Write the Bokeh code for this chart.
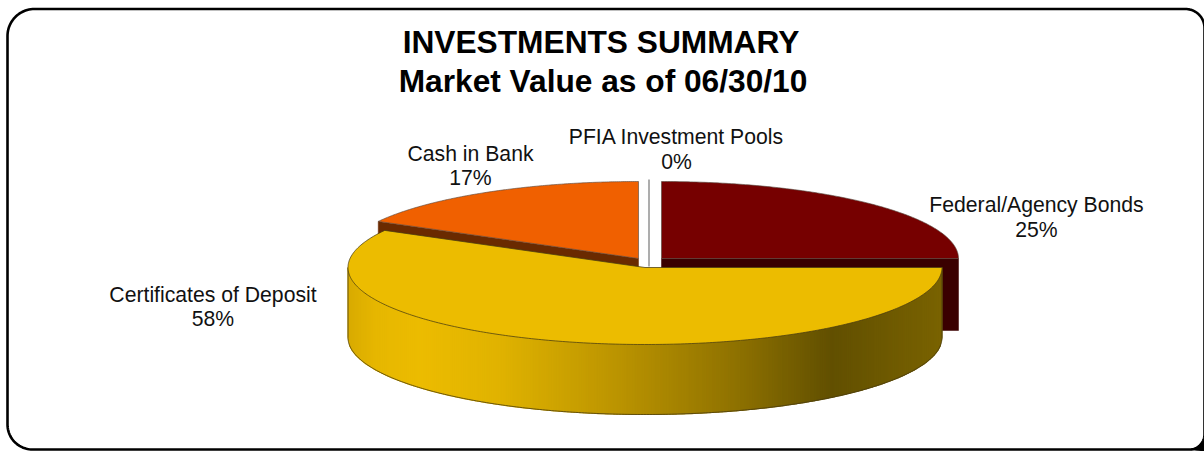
import numpy as np
from bokeh.plotting import figure
from bokeh.models import Range1d
from bokeh.core.properties import value
from bokeh.embed import file_html
from bokeh.resources import INLINE

# ---- data ----
categories = ["Federal/Agency Bonds", "Certificates of Deposit", "Cash in Bank", "PFIA Investment Pools"]
shares = [25, 58, 17, 0]
title_lines = ["INVESTMENTS SUMMARY", "Market Value as of 06/30/10"]

# ---- layout / style ----
W, H = 1204, 451
A, B, DEPTH = 297.0, 77.0, 70.0
centers = [(661.0, 258.0), (644.5, 267.0), (638.0, 258.0), (648.5, 258.0)]
top_colors = ["#760000", "#ECBC00", "#F06000", "#999999"]
side_colors = ["#3A0000", None, "#6A2A00", None]
label_pos = [(1036, 204, 229), (212.5, 293.5, 318), (470, 153, 177), (676, 136, 161)]
title_pos = [(600.5, 41.5), (602.5, 80)]
grad_x = [347, 375, 419, 498, 617, 735, 830, 942]
grad_rgb = [(216, 171, 0), (230, 183, 0), (236, 188, 0), (224, 179, 0), (187, 148, 0),
            (143, 114, 0), (98, 80, 0), (122, 99, 0)]

p = figure(width=W, height=H, output_backend="svg", toolbar_location=None,
           x_range=Range1d(0, W), y_range=Range1d(H, 0), min_border=0,
           outline_line_color=None, background_fill_color="white",
           border_fill_color="white")
p.axis.visible = False
p.grid.visible = False

def rim(cx, cy, a0, a1, n=160, dy=0.0):
    """Points on the ellipse; angle is clockwise from 12 o'clock, in degrees."""
    t = np.radians(np.linspace(a0, a1, n))
    return cx + A * np.sin(t), cy - B * np.cos(t) + dy

# slice angles out of the shares
total = float(sum(shares))
angles = []
start = 0.0
for s in shares:
    end = start + 360.0 * s / total
    angles.append((start, end))
    start = end

# walls of the radial edges that stay visible
(a0, a1), (cx, cy) = angles[0], centers[0]
ex, ey = rim(cx, cy, a1, a1, 1)
p.patch([cx, ex[0], ex[0], cx], [cy, ey[0], ey[0] + DEPTH + 2, cy + DEPTH + 2],
        fill_color=side_colors[0], line_color=side_colors[0], line_width=0.5)
(a0, a1), (cx, cy) = angles[2], centers[2]
ex, ey = rim(cx, cy, a0, a0, 1)
p.patch([cx, ex[0], ex[0], cx], [cy, ey[0], ey[0] + DEPTH, cy + DEPTH],
        fill_color=side_colors[2], line_color=side_colors[2], line_width=0.5)

# top faces of the two rear slices
for i in (0, 2):
    a0, a1 = angles[i]
    cx, cy = centers[i]
    x, y = rim(cx, cy, a0, a1)
    p.patch(np.r_[cx, x], np.r_[cy, y], fill_color=top_colors[i],
            line_color="#5a4a40", line_width=0.8, line_alpha=0.8)

# the empty slice is only a line
cx, cy = centers[3]
x, y = rim(cx, cy, angles[3][0], angles[3][1], 2)
p.line([cx, x[0]], [cy + 8, y[0] - 2], line_color=top_colors[3], line_width=1.6)

# wall of the big slice: shaded strip by strip, evenly spaced across the width
cx, cy = centers[1]
sx = np.linspace(cx + A, cx - A, 298)
xs, ys, cols = [], [], []
for x0, x1 in zip(sx[:-1], sx[1:]):
    y0 = cy + B * np.sqrt(max(0.0, 1 - ((x0 - cx) / A) ** 2))
    y1 = cy + B * np.sqrt(max(0.0, 1 - ((x1 - cx) / A) ** 2))
    mid = 0.5 * (x0 + x1)
    c = [int(round(np.interp(mid, grad_x, [g[k] for g in grad_rgb]))) for k in range(3)]
    xs.append([x0, x1, x1, x0])
    ys.append([y0, y1, y1 + DEPTH, y0 + DEPTH])
    cols.append("#%02x%02x%02x" % tuple(c))
p.patches(xs, ys, fill_color=cols, line_color=cols, line_width=1.2)
x, y = rim(cx, cy, 90, 270, 300, dy=DEPTH)
xo = np.r_[cx + A, x, cx - A]
yo = np.r_[cy, y, cy]
p.line(xo, yo, line_color="#4a3c10", line_width=1.0, line_alpha=0.8)

# top face of the big slice
a0, a1 = angles[1]
x, y = rim(cx, cy, a0, a1, 300)
p.patch(np.r_[cx, x], np.r_[cy, y], fill_color=top_colors[1],
        line_color="#4a3c10", line_width=0.9, line_alpha=0.85)

# labels
for name, s, (lx, ly1, ly2) in zip(categories, shares, label_pos):
    p.text([lx], [ly1], text=[name], text_align="center", text_baseline="middle",
           text_font=value("Liberation Sans"), text_font_size="21.2px", text_color="#111111")
    p.text([lx], [ly2], text=["%d%%" % s], text_align="center", text_baseline="middle",
           text_font=value("Liberation Sans"), text_font_size="21.2px", text_color="#111111")

for line, (tx, ty) in zip(title_lines, title_pos):
    p.text([tx], [ty], text=[line], text_align="center", text_baseline="middle",
           text_font=value("Liberation Sans"), text_font_style="bold",
           text_font_size="31.7px", text_color="#000000")

# frame with rounded corners
def corner(cx, cy, r, a0, a1, n=24):
    t = np.radians(np.linspace(a0, a1, n))
    return cx + r * np.cos(t), cy + r * np.sin(t)

L, T, R, Bt = 7.0, 8.5, 1204.0, 449.0
segs = [corner(L + 27, T + 27, 27, 180, 270), corner(R - 19, T + 19, 19, 270, 360),
        corner(R - 15, Bt - 15, 15, 0, 90), corner(L + 25, Bt - 25, 25, 90, 180)]
fx = np.concatenate([s[0] for s in segs] + [[segs[0][0][0]]])
fy = np.concatenate([s[1] for s in segs] + [[segs[0][1][0]]])
p.line(fx, fy, line_color="black", line_width=2.6)
cxx, cyy = corner(R - 15, Bt - 15, 15, 0, 90)
p.patch(np.r_[cxx, R, R], np.r_[cyy, H, Bt - 15], fill_color="black", line_color="black", line_width=0.5)

open("out.html", "w").write(file_html(p, INLINE))
